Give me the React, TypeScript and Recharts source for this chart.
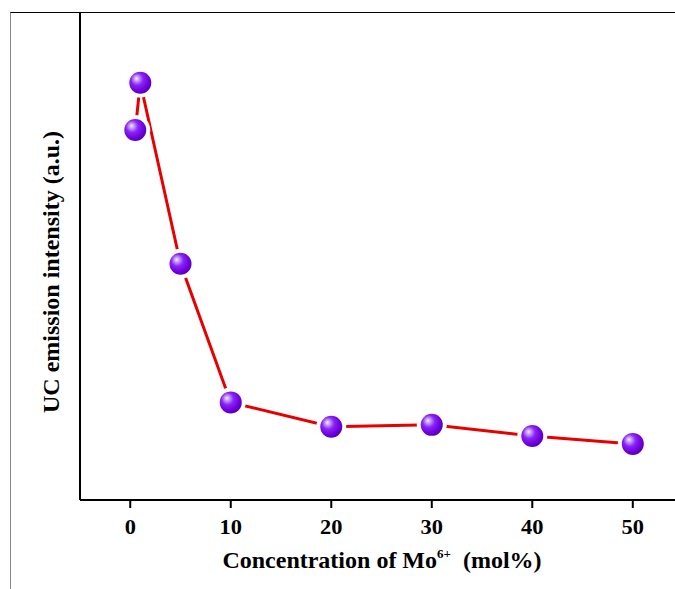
import React from 'react';
import { LineChart, Line, XAxis, YAxis } from 'recharts';

const concentration = [0.5, 1, 5, 10, 20, 30, 40, 50];
const intensity = [75.8, 85.5, 48.4, 20.0, 15.0, 15.4, 13.1, 11.5];
const xTicks = [0, 10, 20, 30, 40, 50];

const data = concentration.map((c, i) => ({ c, v: intensity[i] }));

const FONT = '"Liberation Serif", "Times New Roman", serif';

const Ball = (props: any) => {
  const { cx, cy, index } = props;
  const id = `ballGrad${index}`;
  return (
    <g key={`ball-${index}`}>
      <defs>
        <radialGradient id={id} cx="40%" cy="38%" r="62%" fx="32%" fy="30%">
          <stop offset="0%" stopColor="#f6eeff" />
          <stop offset="18%" stopColor="#c59cff" />
          <stop offset="45%" stopColor="#8a24f2" />
          <stop offset="80%" stopColor="#7000e0" />
          <stop offset="100%" stopColor="#5a00b8" />
        </radialGradient>
      </defs>
      <circle cx={cx} cy={cy} r={15} fill="#fff" />
      <circle cx={cx} cy={cy} r={11} fill={`url(#${id})`} />
    </g>
  );
};

const XTick = (props: any) => {
  const { x, y, payload } = props;
  return (
    <text
      transform={`translate(${x} ${y + 26}) scale(1.12 1)`}
      textAnchor="middle"
      fontFamily={FONT}
      fontWeight="bold"
      fontSize={20}
      fill="#000"
    >
      {payload.value}
    </text>
  );
};

const XLabel = () => (
  <text
    x={382}
    y={568}
    textAnchor="middle"
    fontFamily={FONT}
    fontWeight="bold"
    fontSize={24}
    fill="#000"
    style={{ whiteSpace: 'pre' }}
  >
    <tspan>Concentration of Mo</tspan>
    <tspan fontSize={13} dy={-10}>6+</tspan>
    <tspan dy={10}>{'  (mol%)'}</tspan>
  </text>
);

const YLabel = () => (
  <text
    x={59}
    y={272}
    transform="rotate(-90 59 272)"
    textAnchor="middle"
    fontFamily={FONT}
    fontWeight="bold"
    fontSize={24}
    fill="#000"
  >
    UC emission intensity (a.u.)
  </text>
);

export default function App() {
  return (
    <div style={{ position: 'absolute', left: 0, top: 0, width: 675, height: 589, background: '#fff' }}>
      <div
        style={{
          position: 'absolute',
          left: 10,
          top: 12,
          width: 665,
          height: 577,
          borderLeft: '1px solid #888',
          borderTop: '1px solid #000',
          boxSizing: 'border-box',
        }}
      />
      <div style={{ position: 'absolute', left: 0, top: 0 }}>
        <LineChart width={675} height={589} data={data} margin={{ top: 12, right: 0, bottom: 0, left: 10 }}>
          <XAxis
            dataKey="c"
            type="number"
            domain={[-5, 54.2]}
            ticks={xTicks}
            allowDataOverflow
            height={89}
            tickSize={8}
            tickMargin={0}
            axisLine={{ stroke: '#000', strokeWidth: 2 }}
            tickLine={{ stroke: '#000', strokeWidth: 2 }}
            tick={<XTick />}
            label={<XLabel />}
          />
          <YAxis
            type="number"
            domain={[0, 100]}
            tick={false}
            tickLine={false}
            width={70}
            axisLine={{ stroke: '#000', strokeWidth: 2 }}
            label={<YLabel />}
          />
          <Line
            type="linear"
            dataKey="v"
            stroke="#e80000"
            strokeWidth={3}
            dot={<Ball />}
            activeDot={false}
            isAnimationActive={false}
          />
        </LineChart>
      </div>
    </div>
  );
}
